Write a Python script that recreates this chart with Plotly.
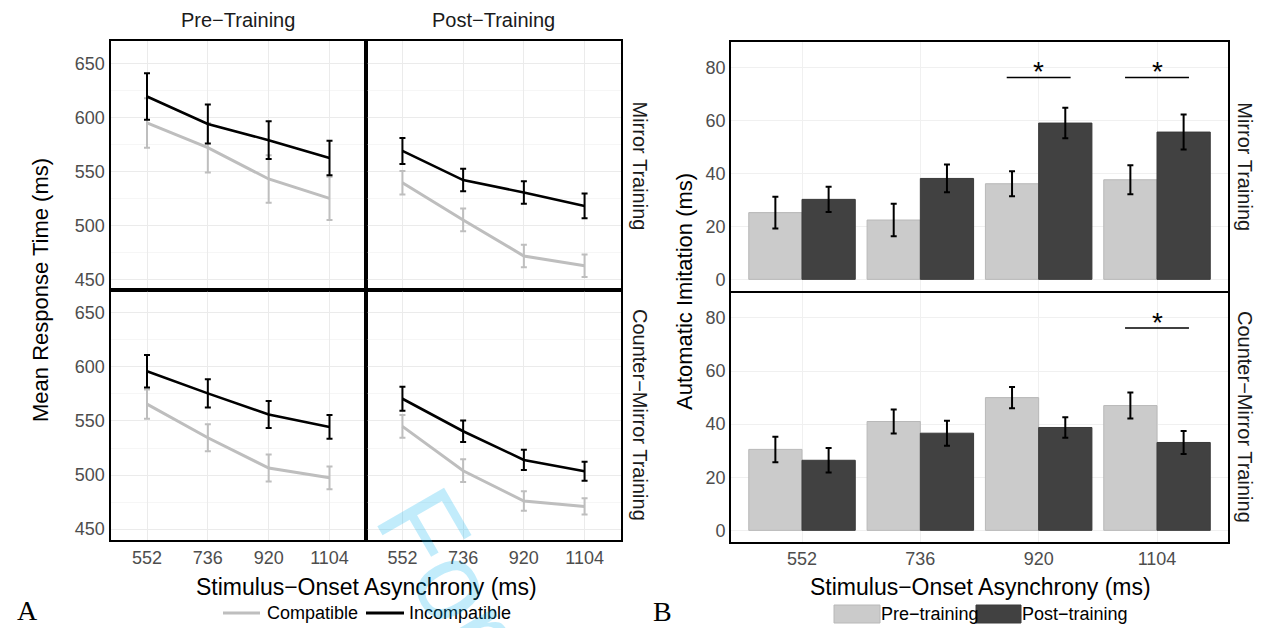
import plotly.graph_objects as go

W, H = 1261, 628

# ---------------- data ----------------
soa = ["552", "736", "920", "1104"]
phases = ["Pre−Training", "Post−Training"]
trainings = ["Mirror Training", "Counter−Mirror Training"]
series_a = ["Compatible", "Incompatible"]
series_b = ["Pre−training", "Post−training"]

# Panel A: mean response time (ms)
mir_pre_comp = [595, 572, 543, 525]
mir_pre_comp_err = [23, 23, 22, 20]
mir_pre_inc = [619.5, 594, 579, 562.5]
mir_pre_inc_err = [21.5, 18, 17.5, 16]
mir_post_comp = [539.5, 505, 471.5, 462.5]
mir_post_comp_err = [11, 10.5, 10.5, 10.5]
mir_post_inc = [569, 542, 530.5, 518]
mir_post_inc_err = [12, 10.5, 10.5, 11.5]
cm_pre_comp = [565.5, 534.5, 506.5, 497.5]
cm_pre_comp_err = [13.5, 12.5, 12.5, 10.5]
cm_pre_inc = [596, 575.5, 556, 544.5]
cm_pre_inc_err = [15, 13, 12.5, 11]
cm_post_comp = [545, 504, 476, 471]
cm_post_comp_err = [10.5, 10.5, 9, 7.5]
cm_post_inc = [570.5, 540.5, 514, 503.5]
cm_post_inc_err = [11, 10, 9.3, 8.7]

# Panel B: automatic imitation (ms)
mir_pre_ai = [25.2, 22.4, 36.1, 37.6]
mir_pre_ai_err = [6, 6.1, 4.75, 5.5]
mir_post_ai = [30.2, 38.1, 59.0, 55.6]
mir_post_ai_err = [4.75, 5.25, 5.75, 6.6]
cm_pre_ai = [30.5, 41, 50, 47]
cm_pre_ai_err = [4.8, 4.5, 4, 4.9]
cm_post_ai = [26.4, 36.6, 38.75, 33.1]
cm_post_ai_err = [4.6, 4.7, 3.9, 4.3]

sig_mirror = ["920", "1104"]
sig_counter = ["1104"]
sig_level = 76.2

# ---------------- style ----------------
FONT = "Liberation Sans, Arial, Helvetica, sans-serif"
GREY_LINE = "#BEBEBE"
PRE_BAR = "#CBCBCB"
POST_BAR = "#414141"
GRID = "#EBEBEB"
TICK_FONT = dict(family=FONT, size=18, color="#4D4D4D")


def px(x):
    return x / W


def py(y):
    return 1 - y / H


xpos = list(range(len(soa)))

fig = go.Figure()

a_data = [
    (0, 0, mir_pre_comp, mir_pre_comp_err, mir_pre_inc, mir_pre_inc_err),
    (0, 1, mir_post_comp, mir_post_comp_err, mir_post_inc, mir_post_inc_err),
    (1, 0, cm_pre_comp, cm_pre_comp_err, cm_pre_inc, cm_pre_inc_err),
    (1, 1, cm_post_comp, cm_post_comp_err, cm_post_inc, cm_post_inc_err),
]

A_X = [110.5, 366, 621]
A_Y = [41, 290, 540]

for k, (r, c, comp, comp_e, inc, inc_e) in enumerate(a_data):
    idx = k + 1
    xa = "x" if idx == 1 else f"x{idx}"
    ya = "y" if idx == 1 else f"y{idx}"
    fig.add_trace(go.Scatter(
        x=xpos, y=comp, mode="lines", xaxis=xa, yaxis=ya, showlegend=False,
        name=series_a[0], line=dict(color=GREY_LINE, width=3),
        error_y=dict(type="data", array=comp_e, color=GREY_LINE, thickness=2, width=3)))
    fig.add_trace(go.Scatter(
        x=xpos, y=inc, mode="lines", xaxis=xa, yaxis=ya, showlegend=False,
        name=series_a[1], line=dict(color="black", width=2.6),
        error_y=dict(type="data", array=inc_e, color="black", thickness=2, width=3)))
    xkey = "xaxis" if idx == 1 else f"xaxis{idx}"
    ykey = "yaxis" if idx == 1 else f"yaxis{idx}"
    fig.layout[xkey] = dict(
        domain=[px(A_X[c]), px(A_X[c + 1])], anchor=ya, range=[-0.6, 3.6],
        tickvals=xpos, ticktext=soa, showticklabels=(r == 1), ticks="",
        tickfont=TICK_FONT, showgrid=True, gridcolor=GRID, gridwidth=1,
        zeroline=False, showline=True, mirror=True, linecolor="black", linewidth=2)
    fig.layout[ykey] = dict(
        domain=[py(A_Y[r + 1]), py(A_Y[r])], anchor=xa, range=[440, 671],
        tickvals=[450, 500, 550, 600, 650], showticklabels=(c == 0), ticks="",
        tickfont=TICK_FONT, showgrid=True, gridcolor=GRID, gridwidth=1,
        minor=dict(showgrid=True, gridcolor="#F6F6F6", gridwidth=1, tickvals=[475, 525, 575, 625]),
        zeroline=False, showline=True, mirror=True, linecolor="black", linewidth=2)

B_X = [731, 1228]
B_Y = [(42, 290.5), (292.5, 541.5)]
b_data = [
    (mir_pre_ai, mir_pre_ai_err, mir_post_ai, mir_post_ai_err, sig_mirror),
    (cm_pre_ai, cm_pre_ai_err, cm_post_ai, cm_post_ai_err, sig_counter),
]
for r, (pre, pre_e, post, post_e, sigs) in enumerate(b_data):
    idx = 5 + r
    xa, ya = f"x{idx}", f"y{idx}"
    fig.add_trace(go.Bar(
        x=xpos, y=pre, xaxis=xa, yaxis=ya, name=series_b[0], showlegend=False,
        marker=dict(color=PRE_BAR, line=dict(color="#B8B8B8", width=1)),
        error_y=dict(type="data", array=pre_e, color="black", thickness=2, width=3)))
    fig.add_trace(go.Bar(
        x=xpos, y=post, xaxis=xa, yaxis=ya, name=series_b[1], showlegend=False,
        marker=dict(color=POST_BAR, line=dict(color="#3A3A3A", width=1)),
        error_y=dict(type="data", array=post_e, color="black", thickness=2, width=3)))
    for s in sigs:
        i = soa.index(s)
        fig.add_trace(go.Scatter(
            x=[i - 0.27, i + 0.27], y=[sig_level, sig_level], mode="lines",
            xaxis=xa, yaxis=ya, showlegend=False, hoverinfo="skip",
            line=dict(color="black", width=1.6)))
        fig.add_annotation(x=i, y=sig_level + 4.4, xref=xa, yref=ya, text="*",
                           showarrow=False, yanchor="middle", yshift=-6,
                           font=dict(family=FONT, size=28, color="black"))
    fig.layout[f"xaxis{idx}"] = dict(
        domain=[px(B_X[0]), px(B_X[1])], anchor=ya, range=[-0.6, 3.6],
        tickvals=xpos, ticktext=soa, showticklabels=(r == 1), ticks="",
        tickfont=TICK_FONT, showgrid=True, gridcolor="#F0F0F0", gridwidth=1,
        zeroline=False, showline=True, mirror=True, linecolor="black", linewidth=1.6)
    fig.layout[f"yaxis{idx}"] = dict(
        domain=[py(B_Y[r][1]), py(B_Y[r][0])], anchor=xa, range=[-4.2, 89.6],
        tickvals=[0, 20, 40, 60, 80], ticks="", tickfont=TICK_FONT,
        showgrid=True, gridcolor="#F0F0F0", gridwidth=1,
        zeroline=False, showline=True, mirror=True, linecolor="black", linewidth=1.6)

fig.update_layout(barmode="group", bargap=0.1, bargroupgap=0)

# thick dividers in panel A
fig.add_shape(type="line", xref="paper", yref="paper", x0=px(A_X[1]), x1=px(A_X[1]),
              y0=py(A_Y[2]), y1=py(A_Y[0]), line=dict(color="black", width=3.5))
fig.add_shape(type="line", xref="paper", yref="paper", x0=px(A_X[0]), x1=px(A_X[2]),
              y0=py(A_Y[1]), y1=py(A_Y[1]), line=dict(color="black", width=3.5))

# strip labels
STRIP = dict(family=FONT, size=20, color="#1A1A1A")
for c, ph in enumerate(phases):
    fig.add_annotation(x=px((A_X[c] + A_X[c + 1]) / 2), y=py(20), xref="paper", yref="paper",
                       text=ph, showarrow=False, font=STRIP, xanchor="center", yanchor="middle")
for r, tr in enumerate(trainings):
    fig.add_annotation(x=px(640), y=py((A_Y[r] + A_Y[r + 1]) / 2), xref="paper", yref="paper",
                       text=tr, showarrow=False, font=STRIP, textangle=90,
                       xanchor="center", yanchor="middle")
    fig.add_annotation(x=px(1245), y=py((B_Y[r][0] + B_Y[r][1]) / 2), xref="paper", yref="paper",
                       text=tr, showarrow=False, font=STRIP, textangle=90,
                       xanchor="center", yanchor="middle")

# axis titles
YTITLE = dict(family=FONT, size=22, color="black")
XTITLE = dict(family=FONT, size=23, color="black")
fig.add_annotation(x=px(40), y=py(290), xref="paper", yref="paper", text="Mean Response Time (ms)",
                   showarrow=False, font=YTITLE, textangle=-90, xanchor="center", yanchor="middle")
fig.add_annotation(x=px(684), y=py(292), xref="paper", yref="paper", text="Automatic Imitation (ms)",
                   showarrow=False, font=YTITLE, textangle=-90, xanchor="center", yanchor="middle")
fig.add_annotation(x=px(366), y=py(587), xref="paper", yref="paper",
                   text="Stimulus−Onset Asynchrony (ms)", showarrow=False, font=XTITLE,
                   xanchor="center", yanchor="middle")
fig.add_annotation(x=px(980), y=py(587), xref="paper", yref="paper",
                   text="Stimulus−Onset Asynchrony (ms)", showarrow=False, font=XTITLE,
                   xanchor="center", yanchor="middle")

# legends (custom keys)
LEG = dict(family=FONT, size=18, color="black")
fig.add_shape(type="line", xref="paper", yref="paper", x0=px(223), x1=px(260), y0=py(613), y1=py(613),
              line=dict(color=GREY_LINE, width=3))
fig.add_annotation(x=px(265), y=py(613), xref="paper", yref="paper", text=series_a[0],
                   showarrow=False, font=LEG, xanchor="left", yanchor="middle")
fig.add_shape(type="line", xref="paper", yref="paper", x0=px(366), x1=px(404), y0=py(613), y1=py(613),
              line=dict(color="black", width=3))
fig.add_annotation(x=px(407), y=py(613), xref="paper", yref="paper", text=series_a[1],
                   showarrow=False, font=LEG, xanchor="left", yanchor="middle")

fig.add_shape(type="rect", xref="paper", yref="paper", x0=px(834), x1=px(880), y0=py(623), y1=py(605),
              fillcolor=PRE_BAR, line=dict(color="#B8B8B8", width=1))
fig.add_annotation(x=px(879), y=py(614), xref="paper", yref="paper", text=series_b[0],
                   showarrow=False, font=LEG, xanchor="left", yanchor="middle")
fig.add_shape(type="rect", xref="paper", yref="paper", x0=px(976), x1=px(1021), y0=py(623), y1=py(605),
              fillcolor=POST_BAR, line=dict(color="#3A3A3A", width=1))
fig.add_annotation(x=px(1020), y=py(614), xref="paper", yref="paper", text=series_b[1],
                   showarrow=False, font=LEG, xanchor="left", yanchor="middle")

# panel letters
LETTER = dict(family="Liberation Serif, Times New Roman, serif", size=28, color="black")
fig.add_annotation(x=px(27), y=py(610), xref="paper", yref="paper", text="A", showarrow=False,
                   font=LETTER, xanchor="center", yanchor="middle")
fig.add_annotation(x=px(662), y=py(611), xref="paper", yref="paper", text="B", showarrow=False,
                   font=LETTER, xanchor="center", yanchor="middle")

# watermark
fig.add_annotation(x=px(615), y=py(860), xref="paper", yref="paper", text="For Peer Review",
                   showarrow=False, textangle=60,
                   font=dict(family=FONT, size=112, color="rgba(0,174,239,0.24)"),
                   xanchor="center", yanchor="middle")

fig.update_layout(width=W, height=H, autosize=False, margin=dict(l=0, r=0, t=0, b=0),
                  paper_bgcolor="white", plot_bgcolor="white", showlegend=False)

fig.write_html("out.html", config={"displayModeBar": False},
               post_script="document.body.style.margin='0';document.body.style.overflow='hidden';")
